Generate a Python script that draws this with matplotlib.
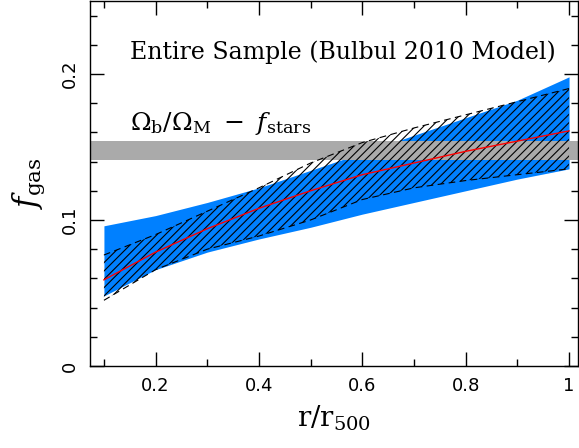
import matplotlib.pyplot as plt
import numpy as np
from matplotlib.ticker import MultipleLocator

plt.rcParams['font.family'] = 'DejaVu Serif'
plt.rcParams['mathtext.fontset'] = 'dejavuserif'
plt.rcParams['hatch.linewidth'] = 0.8

# radius grid (r / r500)
r = [0.1, 0.2, 0.3, 0.4, 0.5, 0.6, 0.7, 0.8, 0.9, 1.0]

# blue band (first model)
blue_lo = [0.048, 0.066, 0.078, 0.087, 0.095, 0.104, 0.112, 0.120, 0.128, 0.135]
blue_hi = [0.096, 0.103, 0.112, 0.122, 0.134, 0.146, 0.158, 0.170, 0.182, 0.198]

# hatched band (second model)
hatch_lo = [0.045, 0.066, 0.080, 0.089, 0.100, 0.114, 0.122, 0.127, 0.131, 0.135]
hatch_hi = [0.076, 0.090, 0.106, 0.122, 0.139, 0.153, 0.163, 0.172, 0.181, 0.190]

# red best-fit curve
red = [0.059, 0.078, 0.094, 0.108, 0.120, 0.131, 0.139, 0.147, 0.154, 0.161]

# cosmic baryon fraction minus stars
omega_lo, omega_hi = 0.1413, 0.154

fig = plt.figure(figsize=(5.79, 4.48), dpi=100)
ax = fig.add_axes([0.1554, 0.183, 0.8426, 0.815])

ax.fill_between(r, blue_lo, blue_hi, color='#0080ff', linewidth=0, zorder=1)
ax.axhspan(omega_lo, omega_hi, color='#aaaaaa', linewidth=0, zorder=2)
ax.fill_between(r, hatch_lo, hatch_hi, facecolor='none', edgecolor='black',
                hatch='////', linewidth=0, zorder=3)
ax.plot(r, hatch_lo, color='black', lw=0.8, ls=(0, (6, 4)), zorder=4)
ax.plot(r, hatch_hi, color='black', lw=0.8, ls=(0, (6, 4)), zorder=4)
ax.plot(r, red, color='red', lw=1.0, zorder=5)

ax.set_xlim(0.073, 1.017)
ax.set_ylim(0, 0.25)
ax.xaxis.set_minor_locator(MultipleLocator(0.1))
ax.yaxis.set_minor_locator(MultipleLocator(0.02))
ax.set_xticks([0.2, 0.4, 0.6, 0.8, 1.0])
ax.set_xticklabels(['0.2', '0.4', '0.6', '0.8', '1'], family='DejaVu Sans')
ax.set_yticks([0, 0.1, 0.2])
ax.set_yticklabels(['0', '0.1', '0.2'], rotation=90, va='center',
                   family='DejaVu Sans')

ax.tick_params(which='both', direction='in', top=True, right=True,
               labelsize=13, pad=8)
ax.tick_params(which='major', length=10, width=1)
ax.tick_params(which='minor', length=5, width=1)
for s in ax.spines.values():
    s.set_linewidth(1)

ax.set_xlabel(r'$\mathrm{r/r_{500}}$', fontsize=20, labelpad=6)
ax.set_ylabel(r'$f_{\mathrm{gas}}$', fontsize=22, labelpad=10)

ax.text(0.082, 0.86, 'Entire Sample (Bulbul 2010 Model)', transform=ax.transAxes,
        fontsize=17, ha='left', va='center')
ax.text(0.082, 0.665, r'$\Omega_{\rm b}/\Omega_{\rm M}\ -\ f_{\rm stars}$',
        transform=ax.transAxes, fontsize=18, ha='left', va='center')

fig.savefig('out.png', dpi=100)
